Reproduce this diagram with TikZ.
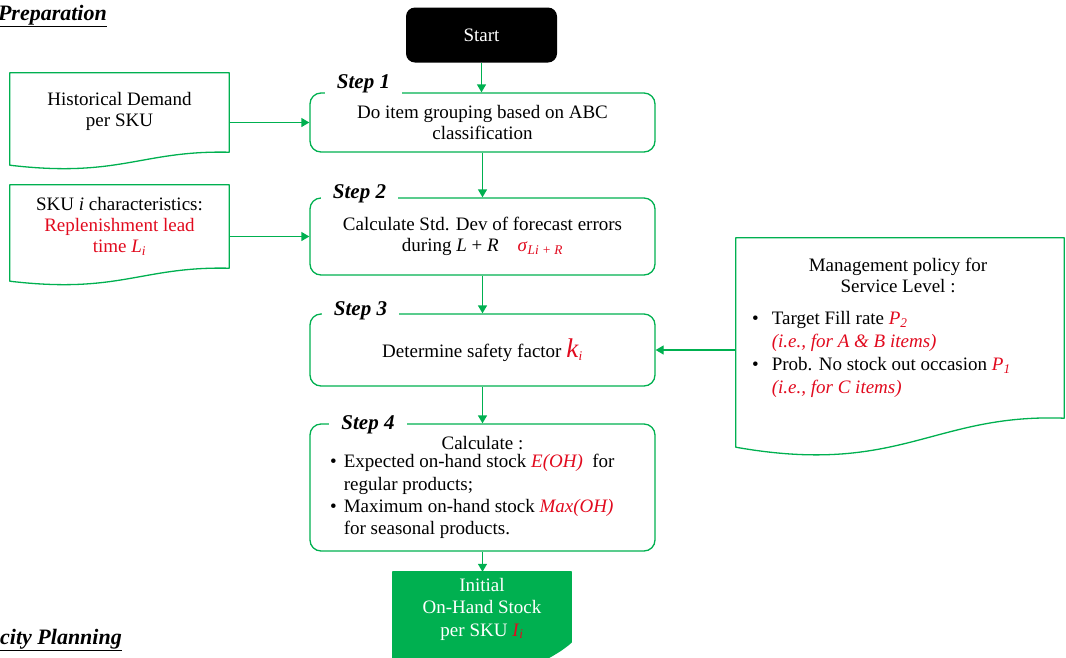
\documentclass[tikz,border=0pt]{standalone}
\usepackage{fontspec}
\setmainfont{Liberation Serif}
\usetikzlibrary{arrows.meta,calc}

\definecolor{flowgreen}{RGB}{0,176,80}
\definecolor{hlred}{RGB}{225,10,30}

\newcommand\rd[1]{\textcolor{hlred}{#1}}
\newcommand\vsub[2]{\textit{#1}\textsubscript{\textit{#2}}}

% document shape: node, rise of right end, control 1 (x, rise), control 2 (x, dip), style
\newcommand\docoutline[7]{%
  \path[#7] (#1.south west) -- (#1.north west) -- (#1.north east)
    -- ([yshift=#2]#1.south east)
    .. controls ([xshift=#3, yshift=#4]#1.south east)
            and ([xshift=#5, yshift=-#6]#1.south west) ..
    (#1.south west) -- cycle;
}

\begin{document}
\begin{tikzpicture}[x=1pt,y=-1pt,
  txt/.style={font=\fontsize{19}{21}\selectfont},
  stepbox/.style={draw=flowgreen, line width=1.3pt, rounded corners=11pt,
    minimum width=345pt, inner sep=0pt, align=center, txt},
  steplabel/.style={fill=white, inner xsep=12pt, inner ysep=1pt,
    font=\fontsize{21}{24}\selectfont\bfseries\itshape},
  docnode/.style={inner sep=0pt},
  doctext/.style={inner sep=0pt, align=center, txt},
  docline/.style={draw=flowgreen, line width=1.3pt, line join=round},
  docfill/.style={draw=flowgreen, fill=flowgreen, line width=1.3pt, line join=round},
  flow/.style={draw=flowgreen, line width=1.3pt, -{Triangle[width=9pt,length=8pt]}},
  heading/.style={font=\fontsize{22}{24}\selectfont\bfseries\itshape, inner sep=0pt},
  listtext/.style={inner sep=0pt, anchor=north west, align=left}]

\useasboundingbox (0,0) rectangle (1066,657);
\clip (0,0) rectangle (1066,657);

% section headings
\node[heading, anchor=east] (prep) at (107,16) {\underline{Preparation}};
\node[heading, anchor=east] (capplan) at (122,640) {\underline{city Planning}};

% start terminal
\node[fill=black, rounded corners=9pt, minimum width=151pt, minimum height=55pt,
      inner sep=0pt, text=white, txt] (start) at (481.5,35) {Start};

% main steps
\node[stepbox, minimum height=59pt] (s1) at (482.5,122.5)
  {Do item grouping based on ABC\\classification};
\node[stepbox, minimum height=77pt] (s2) at (482.5,236.5)
  {Calculate Std. Dev of forecast errors\\during \textit{L} + \textit{R}\quad \rd{\vsub{σ}{Li + R}}};
\node[stepbox, minimum height=72pt] (s3) at (482.5,350)
  {Determine safety factor \rd{{\fontsize{27}{27}\selectfont\textit{k}}\textsubscript{\textit{i}}}};
\node[stepbox, minimum height=127pt] (s4) at (482.5,487.5) {};
\node[txt, inner sep=0pt] (s4head) at (482.5,443) {Calculate :};
\node[listtext] (s4list) at (330,452) {\fontsize{19}{22.3}\selectfont
  \begin{tabular}{@{}l@{\hspace{7pt}}l@{}}
  • & Expected on-hand stock \rd{\textit{E(OH)}}\ \ for\\
    & regular products;\\
  • & Maximum on-hand stock \rd{\textit{Max(OH)}}\\
    & for seasonal products.
  \end{tabular}};

% step labels
\node[steplabel] (l1) at (363.5,84) {Step 1};
\node[steplabel] (l2) at (359.5,194) {Step 2};
\node[steplabel] (l3) at (360.5,311) {Step 3};
\node[steplabel] (l4) at (368,425) {Step 4};

% input documents
\node[docnode, minimum width=219pt, minimum height=92pt] (hd) at (119.5,119) {};
\docoutline{hd}{13pt}{-88pt}{15pt}{110pt}{13pt}{docline}
\node[doctext] (hdtext) at (119.5,111) {Historical Demand\\per SKU};

\node[docnode, minimum width=219pt, minimum height=96pt] (sku) at (119.5,233) {};
\docoutline{sku}{13pt}{-88pt}{15pt}{110pt}{13pt}{docline}
\node[doctext] (skutext) at (119.5,226)
  {SKU \textit{i} characteristics:\\\rd{Replenishment lead}\\\rd{time \vsub{L}{i}}};

\node[docnode, minimum width=328pt, minimum height=209pt] (mgmt) at (900,342.5) {};
\docoutline{mgmt}{29pt}{-131pt}{34pt}{164pt}{29pt}{docline}
\node[doctext] (mgmttitle) at (898,275) {Management policy for\\Service Level :};
\node[listtext] (mgmtlist) at (752,308) {\fontsize{19}{23}\selectfont
  \begin{tabular}{@{}l@{\hspace{13pt}}l@{}}
  • & Target Fill rate \rd{\vsub{P}{2}}\\
    & \rd{\textit{(i.e., for A \& B items)}}\\
  • & Prob. No stock out occasion \rd{\vsub{P}{1}}\\
    & \rd{\textit{(i.e., for C items)}}
  \end{tabular}};

% output document
\node[docnode, minimum width=178pt, minimum height=108pt] (init) at (482,626) {};
\docoutline{init}{38pt}{-31pt}{10pt}{57pt}{20pt}{docfill}
\node[doctext, text=white, font=\fontsize{19}{22.5}\selectfont] (inittext) at (482,609)
  {Initial\\On-Hand Stock\\per SKU \rd{\vsub{I}{i}}};

% connectors
\draw[flow] (start.south) -- (start.south |- s1.north);
\draw[flow] (s1.south) -- (s2.north);
\draw[flow] (s2.south) -- (s3.north);
\draw[flow] (s3.south) -- (s4.north);
\draw[flow] (s4.south) -- (s4.south |- init.north);
\draw[flow] (s1.west -| hd.east) -- (s1.west);
\draw[flow] (s2.west -| sku.east) -- (s2.west);
\draw[flow] (s3.east -| mgmt.west) -- (s3.east);

\end{tikzpicture}
\end{document}
